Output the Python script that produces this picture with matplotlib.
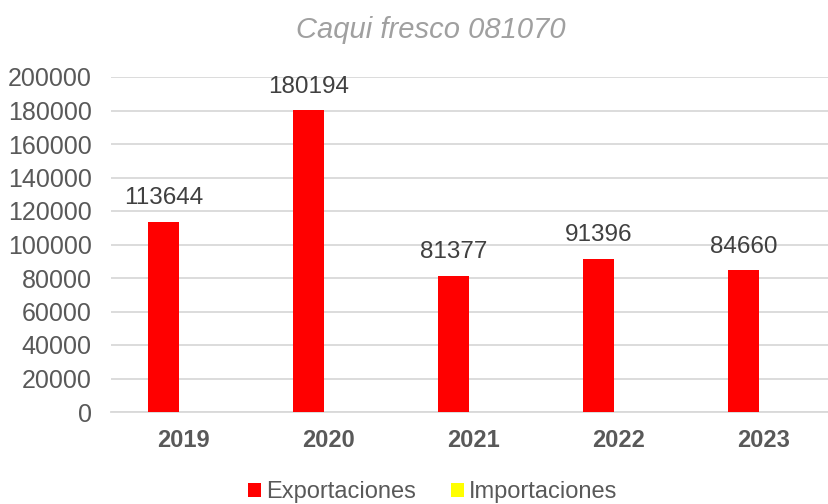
import numpy as np
import matplotlib.pyplot as plt

plt.rcParams['font.family'] = ['Liberation Sans', 'DejaVu Sans']

years = ["2019", "2020", "2021", "2022", "2023"]
exportaciones = [113644, 180194, 81377, 91396, 84660]
importaciones = [0, 0, 0, 0, 0]

W, H = 829, 504
fig = plt.figure(figsize=(W / 100, H / 100), dpi=100)
# plot area in pixels: left 111, top 77, bottom 412, one category = 145 px
ax = fig.add_axes([111 / W, (H - 412) / H, 725 / W, (412 - 77) / H])

x = np.arange(len(years))
w = 0.22
off = -0.138
bars = ax.bar(x + off, exportaciones, w, color='#ff0000', label='Exportaciones', zorder=3)
ax.bar(x + off + w, importaciones, w, color='#ffff00', label='Importaciones', zorder=3)

for b, v in zip(bars, exportaciones):
    ax.annotate(str(v), (b.get_x() + b.get_width() / 2, v), xytext=(0, 9),
                textcoords='offset points', ha='center', va='bottom',
                fontsize=17.5, color='#404040')

ax.set_xlim(-0.5, 4.5)
ax.set_ylim(0, 200000)
ax.set_yticks(range(0, 200001, 20000))
ax.set_xticks(x)
ax.set_xticklabels(years, fontweight='bold')
ax.tick_params(axis='y', length=0, pad=14, labelsize=18, labelcolor='#595959')
ax.tick_params(axis='x', length=0, pad=12, labelsize=17, labelcolor='#595959')
ax.grid(axis='y', color='#d9d9d9', linewidth=1.3, zorder=0)
for s in ['top', 'right', 'left']:
    ax.spines[s].set_visible(False)
ax.spines['bottom'].set_color('#d9d9d9')
ax.spines['bottom'].set_linewidth(1.3)

fig.text(431 / W, 1 - 30 / H, "Caqui fresco 081070", ha='center', va='center',
         fontsize=21, style='italic', color='#a0a0a0')

fig.legend(loc='center', bbox_to_anchor=(433 / W, 1 - 492 / H), ncol=2, frameon=False,
           fontsize=17, labelcolor='#595959', handlelength=0.55, handleheight=0.55,
           handletextpad=0.2, columnspacing=1.5)

fig.savefig('out.png', dpi=100)
